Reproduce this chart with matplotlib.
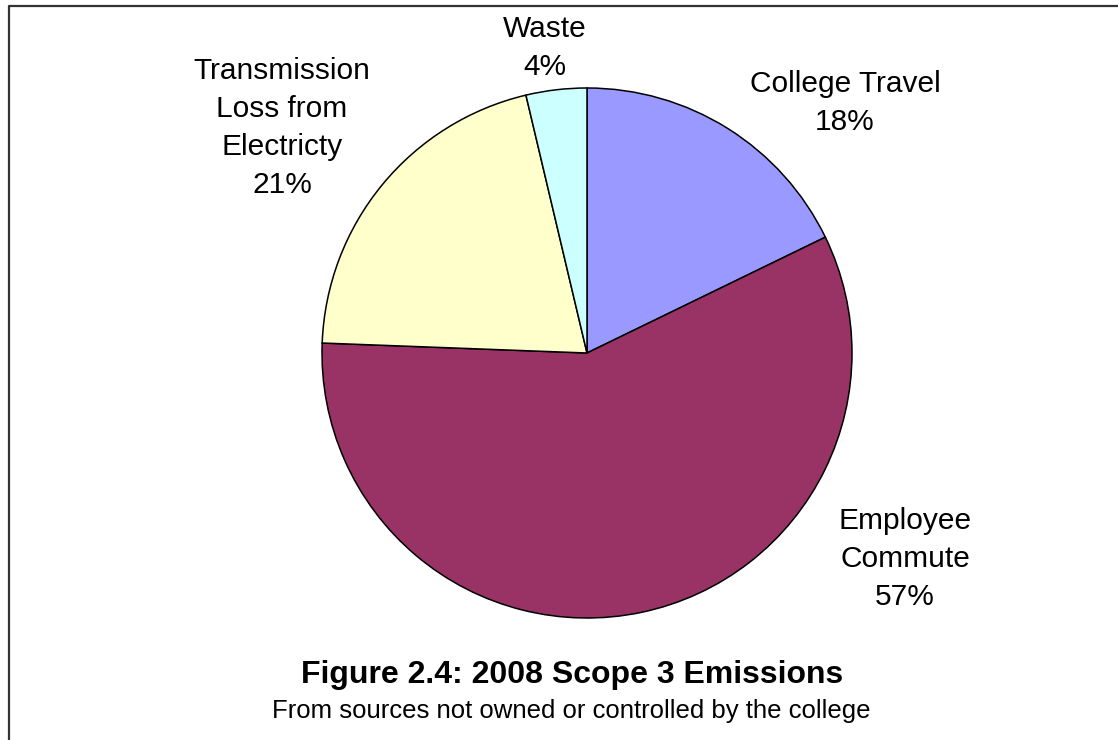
import matplotlib
matplotlib.use("Agg")
import matplotlib.pyplot as plt
from matplotlib.lines import Line2D

categories = ["College Travel", "Employee\nCommute", "Transmission\nLoss from\nElectricty", "Waste"]
values = [17.8, 57.8, 20.7, 3.7]
pct_labels = ["18%", "57%", "21%", "4%"]
colors = ["#9999FF", "#993366", "#FFFFCC", "#CCFFFF"]
title = "Figure 2.4: 2008 Scope 3 Emissions"
subtitle = "From sources not owned or controlled by the college"

plt.rcParams['font.family'] = ['Liberation Sans', 'DejaVu Sans']

W, H = 1118, 740
fig = plt.figure(figsize=(W / 100, H / 100), dpi=100)
fig.patch.set_facecolor("white")

cx, cy, r = 587, 353, 265
ax = fig.add_axes([(cx - r) / W, (H - cy - r) / H, 2 * r / W, 2 * r / H])
ax.pie(values, colors=colors, startangle=90, counterclock=False,
       wedgeprops=dict(edgecolor="black", linewidth=1.1))
ax.set_aspect("equal")
ax.set_xlim(-1, 1)
ax.set_ylim(-1, 1)
ax.axis("off")

# label positions (pixel centres)
label_pos = [(845, 103), (905, 559), (282, 128), (545, 48)]
for cat, pct, (x, y) in zip(categories, pct_labels, label_pos):
    fig.text(x / W, 1 - y / H, f"{cat}\n{pct}", ha="center", va="center",
             fontsize=21.5, linespacing=1.45, color="black")

fig.text(572 / W, 1 - 675 / H, title, ha="center", va="center",
         fontsize=23, fontweight="bold")
fig.text(571 / W, 1 - 711 / H, subtitle, ha="center", va="center",
         fontsize=18.5)

# frame lines (partially visible)
fig.add_artist(Line2D([9 / W, 9 / W, 1.0], [0.0, 1 - 5.5 / H, 1 - 5.5 / H],
                      transform=fig.transFigure, color="#333333", linewidth=1.6))

fig.savefig("out.png", dpi=100)
